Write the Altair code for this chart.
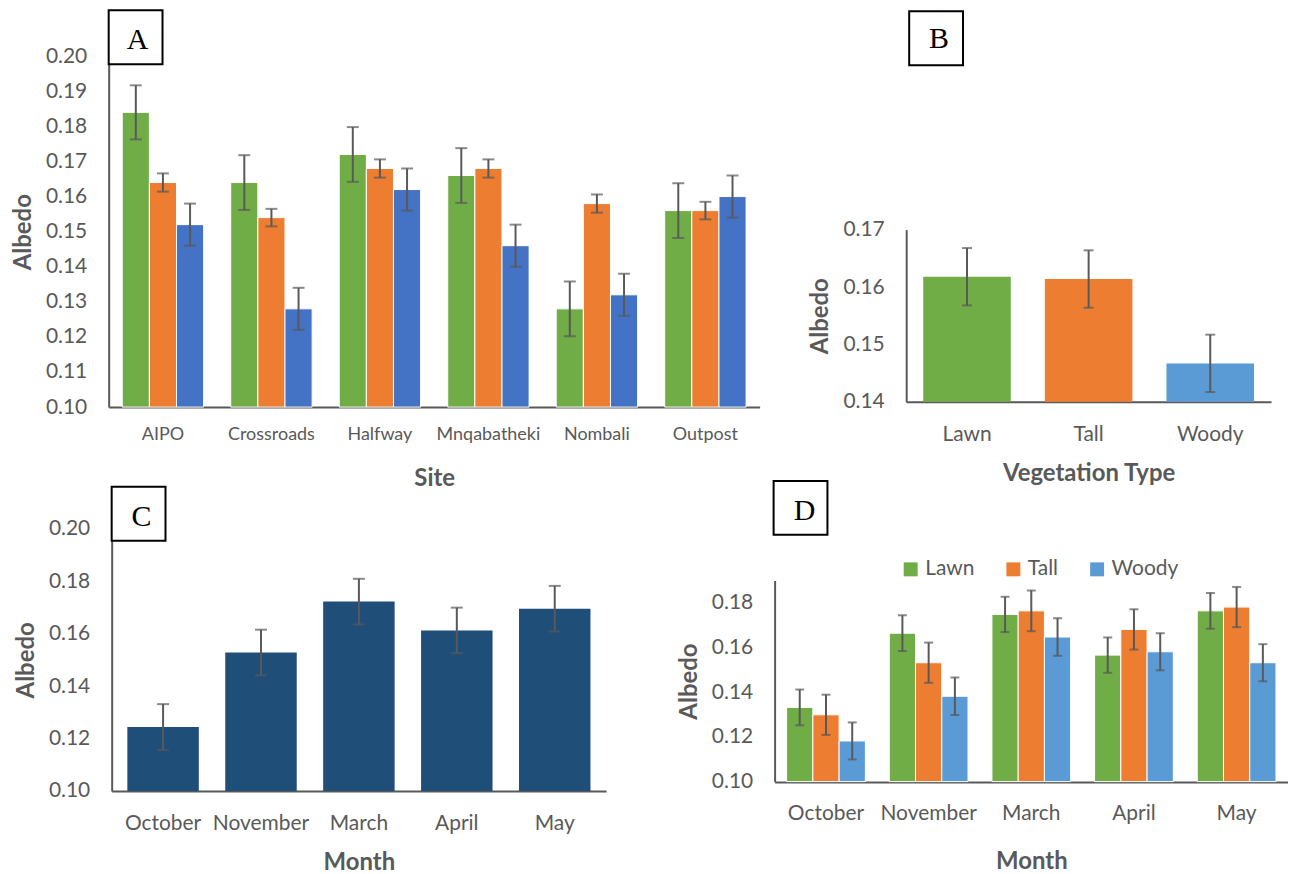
import altair as alt
import pandas as pd

# ---------------- data ----------------
VEG = ["Lawn", "Tall", "Woody"]

SITES = ["AIPO", "Crossroads", "Halfway", "Mnqabatheki", "Nombali", "Outpost"]
SITE_LAWN = [0.184, 0.164, 0.172, 0.166, 0.128, 0.156]
SITE_TALL = [0.164, 0.154, 0.168, 0.168, 0.158, 0.156]
SITE_WOODY = [0.152, 0.128, 0.162, 0.146, 0.132, 0.160]
SITE_LAWN_ERR = [0.0077, 0.0078, 0.0078, 0.0078, 0.0078, 0.0078]
SITE_TALL_ERR = [0.0026, 0.0025, 0.0026, 0.0026, 0.0026, 0.0025]
SITE_WOODY_ERR = [0.0060, 0.0060, 0.0060, 0.0060, 0.0060, 0.0060]

VEG_MEAN = [0.1618, 0.1614, 0.1467]
VEG_ERR = [0.0050, 0.0050, 0.0050]

MONTHS = ["October", "November", "March", "April", "May"]
MONTH_MEAN = [0.1244, 0.1528, 0.1722, 0.1612, 0.1695]
MONTH_ERR = [0.0087, 0.0087, 0.0087, 0.0087, 0.0087]

MV_LAWN = [0.1332, 0.1664, 0.1748, 0.1566, 0.1764]
MV_TALL = [0.1299, 0.1532, 0.1764, 0.1681, 0.1781]
MV_WOODY = [0.1182, 0.1382, 0.1647, 0.1581, 0.1532]
MV_LAWN_ERR = [0.0080, 0.0080, 0.0079, 0.0079, 0.0080]
MV_TALL_ERR = [0.0090, 0.0090, 0.0091, 0.0090, 0.0090]
MV_WOODY_ERR = [0.0083, 0.0084, 0.0084, 0.0083, 0.0083]

TICKS_A = [0.10, 0.11, 0.12, 0.13, 0.14, 0.15, 0.16, 0.17, 0.18, 0.19, 0.20]
TICKS_B = [0.14, 0.15, 0.16, 0.17]
TICKS_C = [0.10, 0.12, 0.14, 0.16, 0.18, 0.20]
TICKS_D = [0.10, 0.12, 0.14, 0.16, 0.18]

# ---------------- style ----------------
GREEN = "#70AD47"
ORANGE = "#ED7D31"
BLUE_A = "#4472C4"
BLUE_B = "#5B9BD5"
NAVY = "#1F4E79"
GREY = "#595959"
FONT = "Lato"

# ---------------- tables ----------------
def grouped(cats, cat_name, series, errs):
    rows = []
    for i, c in enumerate(cats):
        for v, vals, es in zip(VEG, series, errs):
            rows.append({cat_name: c, "veg": v, "val": vals[i], "err": es[i]})
    return pd.DataFrame(rows)

df_a = grouped(SITES, "site", [SITE_LAWN, SITE_TALL, SITE_WOODY],
               [SITE_LAWN_ERR, SITE_TALL_ERR, SITE_WOODY_ERR])
df_b = pd.DataFrame({"veg": VEG, "val": VEG_MEAN, "err": VEG_ERR})
df_c = pd.DataFrame({"month": MONTHS, "val": MONTH_MEAN, "err": MONTH_ERR})
df_d = grouped(MONTHS, "month", [MV_LAWN, MV_TALL, MV_WOODY],
               [MV_LAWN_ERR, MV_TALL_ERR, MV_WOODY_ERR])
one = pd.DataFrame({"k": [0]})


def yaxis(values, offset=0, tp=10):
    return alt.Axis(values=values, format=".2f", title="Albedo", grid=False,
                    ticks=False, tickSize=0, labelPadding=22, labelFontSize=21,
                    labelFont=FONT, labelColor=GREY, domainColor=GREY,
                    domainWidth=2, titleFont=FONT, titleFontSize=24,
                    titleFontWeight="bold", titleColor=GREY, titlePadding=tp,
                    offset=offset)


def xaxis(title, lsize, lpad, tpad, offset=0):
    return alt.Axis(title=title, labelAngle=0, grid=False, ticks=False,
                    tickSize=0, labelPadding=lpad, labelFontSize=lsize,
                    labelFont=FONT, labelColor=GREY, domainColor=GREY,
                    domainWidth=2, titleFont=FONT, titleFontSize=24,
                    titleFontWeight="bold", titleColor=GREY, titlePadding=tpad,
                    offset=offset)


def label_box(letter, x0, y0, tx, ty):
    rect = alt.Chart(one).mark_rect(fill="white", stroke="black", strokeWidth=2).encode(
        x=alt.value(x0), x2=alt.value(x0 + 54), y=alt.value(y0), y2=alt.value(y0 + 54))
    txt = alt.Chart(one).mark_text(text=letter, font="Liberation Serif", fontSize=30,
                                   color="black", baseline="alphabetic",
                                   align="center").encode(x=alt.value(tx), y=alt.value(ty))
    return [rect, txt]


def errbars(base, yscale, yax, cap):
    b = base.transform_calculate(lo="datum.val - datum.err", hi="datum.val + datum.err")
    rule = b.mark_rule(color=GREY, strokeWidth=2).encode(
        y=alt.Y("lo:Q", scale=yscale, axis=yax), y2="hi:Q")
    t1 = b.mark_tick(color=GREY, thickness=2, size=cap).encode(
        y=alt.Y("lo:Q", scale=yscale, axis=yax))
    t2 = b.mark_tick(color=GREY, thickness=2, size=cap).encode(
        y=alt.Y("hi:Q", scale=yscale, axis=yax))
    return [rule, t1, t2]


# ---------------- panel A ----------------
ys_a = alt.Scale(domain=[0.10, 0.20], zero=False, nice=False)
ya = yaxis(TICKS_A)
base_a = alt.Chart(df_a).encode(
    x=alt.X("site:N", sort=SITES, scale=alt.Scale(paddingInner=0.25, paddingOuter=0.125),
            axis=xaxis("Site", 18, 18, 24)),
    xOffset=alt.XOffset("veg:N", sort=VEG, scale=alt.Scale(paddingInner=0, paddingOuter=0)),
)
bars_a = base_a.mark_bar(stroke="white", strokeWidth=1).encode(
    y=alt.Y("val:Q", scale=ys_a, axis=ya), y2=alt.datum(0.10),
    color=alt.Color("veg:N", scale=alt.Scale(domain=VEG, range=[GREEN, ORANGE, BLUE_A]), legend=None),
)
panel_a = alt.layer(bars_a, *errbars(base_a, ys_a, ya, 12),
                    *label_box("A", 0, -46, 29, -7)).properties(width=653, height=352)

# ---------------- panel B (view starts at D's column; plot placed by ranges) ----------------
ys_b = alt.Scale(domain=[0.14, 0.17], zero=False, nice=False, range=[346.7, 174])
yb = yaxis(TICKS_B, offset=-132)
base_b = alt.Chart(df_b).encode(
    x=alt.X("veg:N", sort=VEG,
            scale=alt.Scale(paddingInner=0.28, paddingOuter=0.14, range=[132, 498]),
            axis=xaxis("Vegetation Type", 21, 22, 17, offset=-5.3)),
)
bars_b = base_b.mark_bar().encode(
    y=alt.Y("val:Q", scale=ys_b, axis=yb), y2=alt.datum(0.14),
    color=alt.Color("veg:N", scale=alt.Scale(domain=VEG, range=[GREEN, ORANGE, BLUE_B]), legend=None),
)
panel_b = alt.layer(bars_b, *errbars(base_b, ys_b, yb, 10),
                    *label_box("B", 135, -45, 165, -8)).properties(width=498, height=352)

# ---------------- panel C ----------------
ys_c = alt.Scale(domain=[0.10, 0.20], zero=False, nice=False)
yc = yaxis(TICKS_C, offset=-3)
base_c = alt.Chart(df_c).encode(
    x=alt.X("month:N", sort=MONTHS,
            scale=alt.Scale(paddingInner=0.27, paddingOuter=0.16, range=[3, 499]),
            axis=xaxis("Month", 21, 22, 17)),
)
bars_c = base_c.mark_bar(color=NAVY).encode(
    y=alt.Y("val:Q", scale=ys_c, axis=yc), y2=alt.datum(0.10),
)
panel_c = alt.layer(bars_c, *errbars(base_c, ys_c, yc, 12),
                    *label_box("C", 3, -42, 33, -3)).properties(width=499, height=263)

# ---------------- panel D ----------------
ys_d = alt.Scale(domain=[0.10, 0.19], zero=False, nice=False, range=[253.7, 51.9])
yd = yaxis(TICKS_D)
base_d = alt.Chart(df_d).encode(
    x=alt.X("month:N", sort=MONTHS, scale=alt.Scale(paddingInner=0.233, paddingOuter=0.117),
            axis=xaxis("Month", 21, 21, 26)),
    xOffset=alt.XOffset("veg:N", sort=VEG, scale=alt.Scale(paddingInner=0, paddingOuter=0)),
)
bars_d = base_d.mark_bar(stroke="white", strokeWidth=1).encode(
    y=alt.Y("val:Q", scale=ys_d, axis=yd), y2=alt.datum(0.10),
    color=alt.Color("veg:N", scale=alt.Scale(domain=VEG, range=[GREEN, ORANGE, BLUE_B]),
                    legend=alt.Legend(orient="none", legendX=126, legendY=30,
                                      direction="horizontal", title=None,
                                      symbolType="square", symbolSize=196,
                                      symbolStrokeWidth=0, labelFont=FONT,
                                      labelFontSize=21, labelColor=GREY,
                                      columnPadding=28, labelOffset=4, padding=0)),
)
panel_d = alt.layer(bars_d, *errbars(base_d, ys_d, yd, 9),
                    *label_box("D", -1, -48, 30, -9)).properties(width=515, height=254)

# ---------------- layout ----------------
chart = alt.concat(
    panel_a, panel_b, panel_c, panel_d,
    columns=2, spacing={"row": 122, "column": 15}, bounds="flush",
).resolve_scale(color="independent", xOffset="independent").properties(
    padding={"left": 3, "top": 0, "right": 0, "bottom": 0}, background="white"
).configure_view(stroke="transparent", strokeWidth=0)

chart.save("out.html", embed_options={"renderer": "svg", "actions": False})
